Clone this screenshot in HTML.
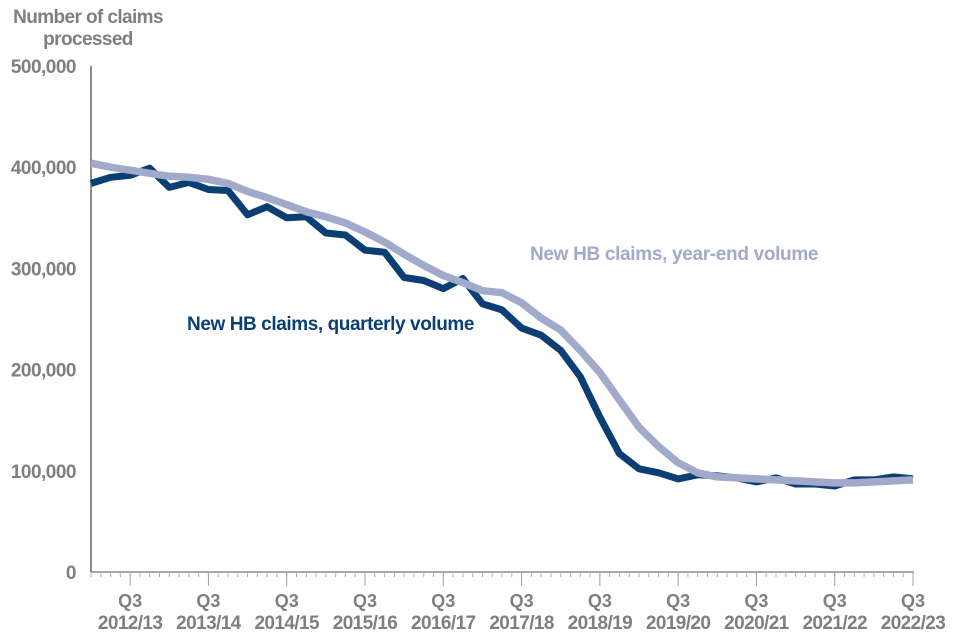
<!DOCTYPE html>
<html><head><meta charset="utf-8"><style>
body{margin:0;background:#fff;}
svg{display:block;font-family:"Liberation Sans",Arial,sans-serif;font-weight:bold;}
</style></head><body>
<svg id="chart" width="960" height="640">
<text x="88" y="23" text-anchor="middle" font-size="19" fill="#7f7f7f" letter-spacing="-0.6"><tspan x="88" dy="0">Number of claims</tspan><tspan x="88" dy="22">processed</tspan></text>
<g id="axes"></g>
<g id="series"></g>
<text x="530" y="260" font-size="19" fill="#a2aacb" letter-spacing="-0.5" textLength="288">New HB claims, year-end volume</text>
<text x="187" y="330" font-size="19" fill="#0b3f74" letter-spacing="-0.5" textLength="287">New HB claims, quarterly volume</text>
</svg>
<script>
const yTicks=[0,100000,200000,300000,400000,500000];
const yearLabels=["2012/13","2013/14","2014/15","2015/16","2016/17","2017/18","2018/19","2019/20","2020/21","2021/22","2022/23"];
const quarterly=[384,390,392,399,380,385,378,377,353,361,350,351,335,333,318,316,291,288,280,290,265,259,241,234,219,193,153,117,102,98,92,96,95,93,89,93,87,87,85,91,91,94,92];
const yearEnd=[404,400,397,394,391,390,388,384,376,370,363,356,351,345,336,326,314,303,293,286,278,276,266,251,239,219,197,170,143,124,108,98,94,93,92,91,90,89,88,88,89,90,91];
const NS="http://www.w3.org/2000/svg";
const x0=91,x1=913,y0=572,y1=66;
const nQ=quarterly.length;
function xs(i){return x0+(x1-x0)*i/(nQ-1);}
function ys(v){return y0-(y0-y1)*v/500000;}
const axes=document.getElementById('axes'),series=document.getElementById('series');
function mk(tag,attrs,parent){const e=document.createElementNS(NS,tag);for(const k in attrs)e.setAttribute(k,attrs[k]);parent.appendChild(e);return e;}
let ya=mk('line',{x1:x0,y1:y1,x2:x0,y2:y0,stroke:'#8c8c8c','stroke-width':2},axes);


let xa=mk('line',{x1:x0,y1:y0,x2:x1+1,y2:y0,stroke:'#8c8c8c','stroke-width':1.5},axes);


yTicks.forEach(v=>{
 const t=mk('text',{x:76,y:ys(v)+7,'text-anchor':'end','font-size':19,fill:'#7f7f7f','letter-spacing':'-0.5'},axes);
 t.textContent=v===0?'0':v.toLocaleString('en-GB');
 
 
});
const step=(x1-x0)/(nQ-1);
for(let k=0;k<=2*(nQ-1)+1;k++){
 const x=x0+k*step/2;if(x>x1+1)break;
 const tk=mk('line',{x1:x,y1:y0,x2:x,y2:y0+5,stroke:'#b0b0b0','stroke-width':1},axes);
 
 
}
yearLabels.forEach((lab,j)=>{
 const x=xs(2+4*j);
 const tk=mk('line',{x1:x,y1:y0,x2:x,y2:y0+14,stroke:'#a0a0a0','stroke-width':1},axes);
 
 
 const t=mk('text',{x:x,y:607,'text-anchor':'middle','font-size':18,fill:'#7f7f7f'},axes);
 t.textContent='Q3';
 
 
 const t2=mk('text',{x:x,y:629,'text-anchor':'middle','font-size':19,fill:'#7f7f7f','letter-spacing':'-0.6'},axes);
 t2.textContent=lab;
 
 
});
function line(data,color,w,name){
 const d=data.map((v,i)=>(i?'L':'M')+xs(i).toFixed(1)+','+ys(v*1000).toFixed(1)).join(' ');
 const p=mk('path',{d:d,fill:'none',stroke:color,'stroke-width':w,'stroke-linejoin':'round'},series);
 
 
}
line(quarterly,'#0b3f74',7,'quarterly-volume-line');
line(yearEnd,'#a2aacb',7.5,'year-end-volume-line');
</script>
</body></html>
